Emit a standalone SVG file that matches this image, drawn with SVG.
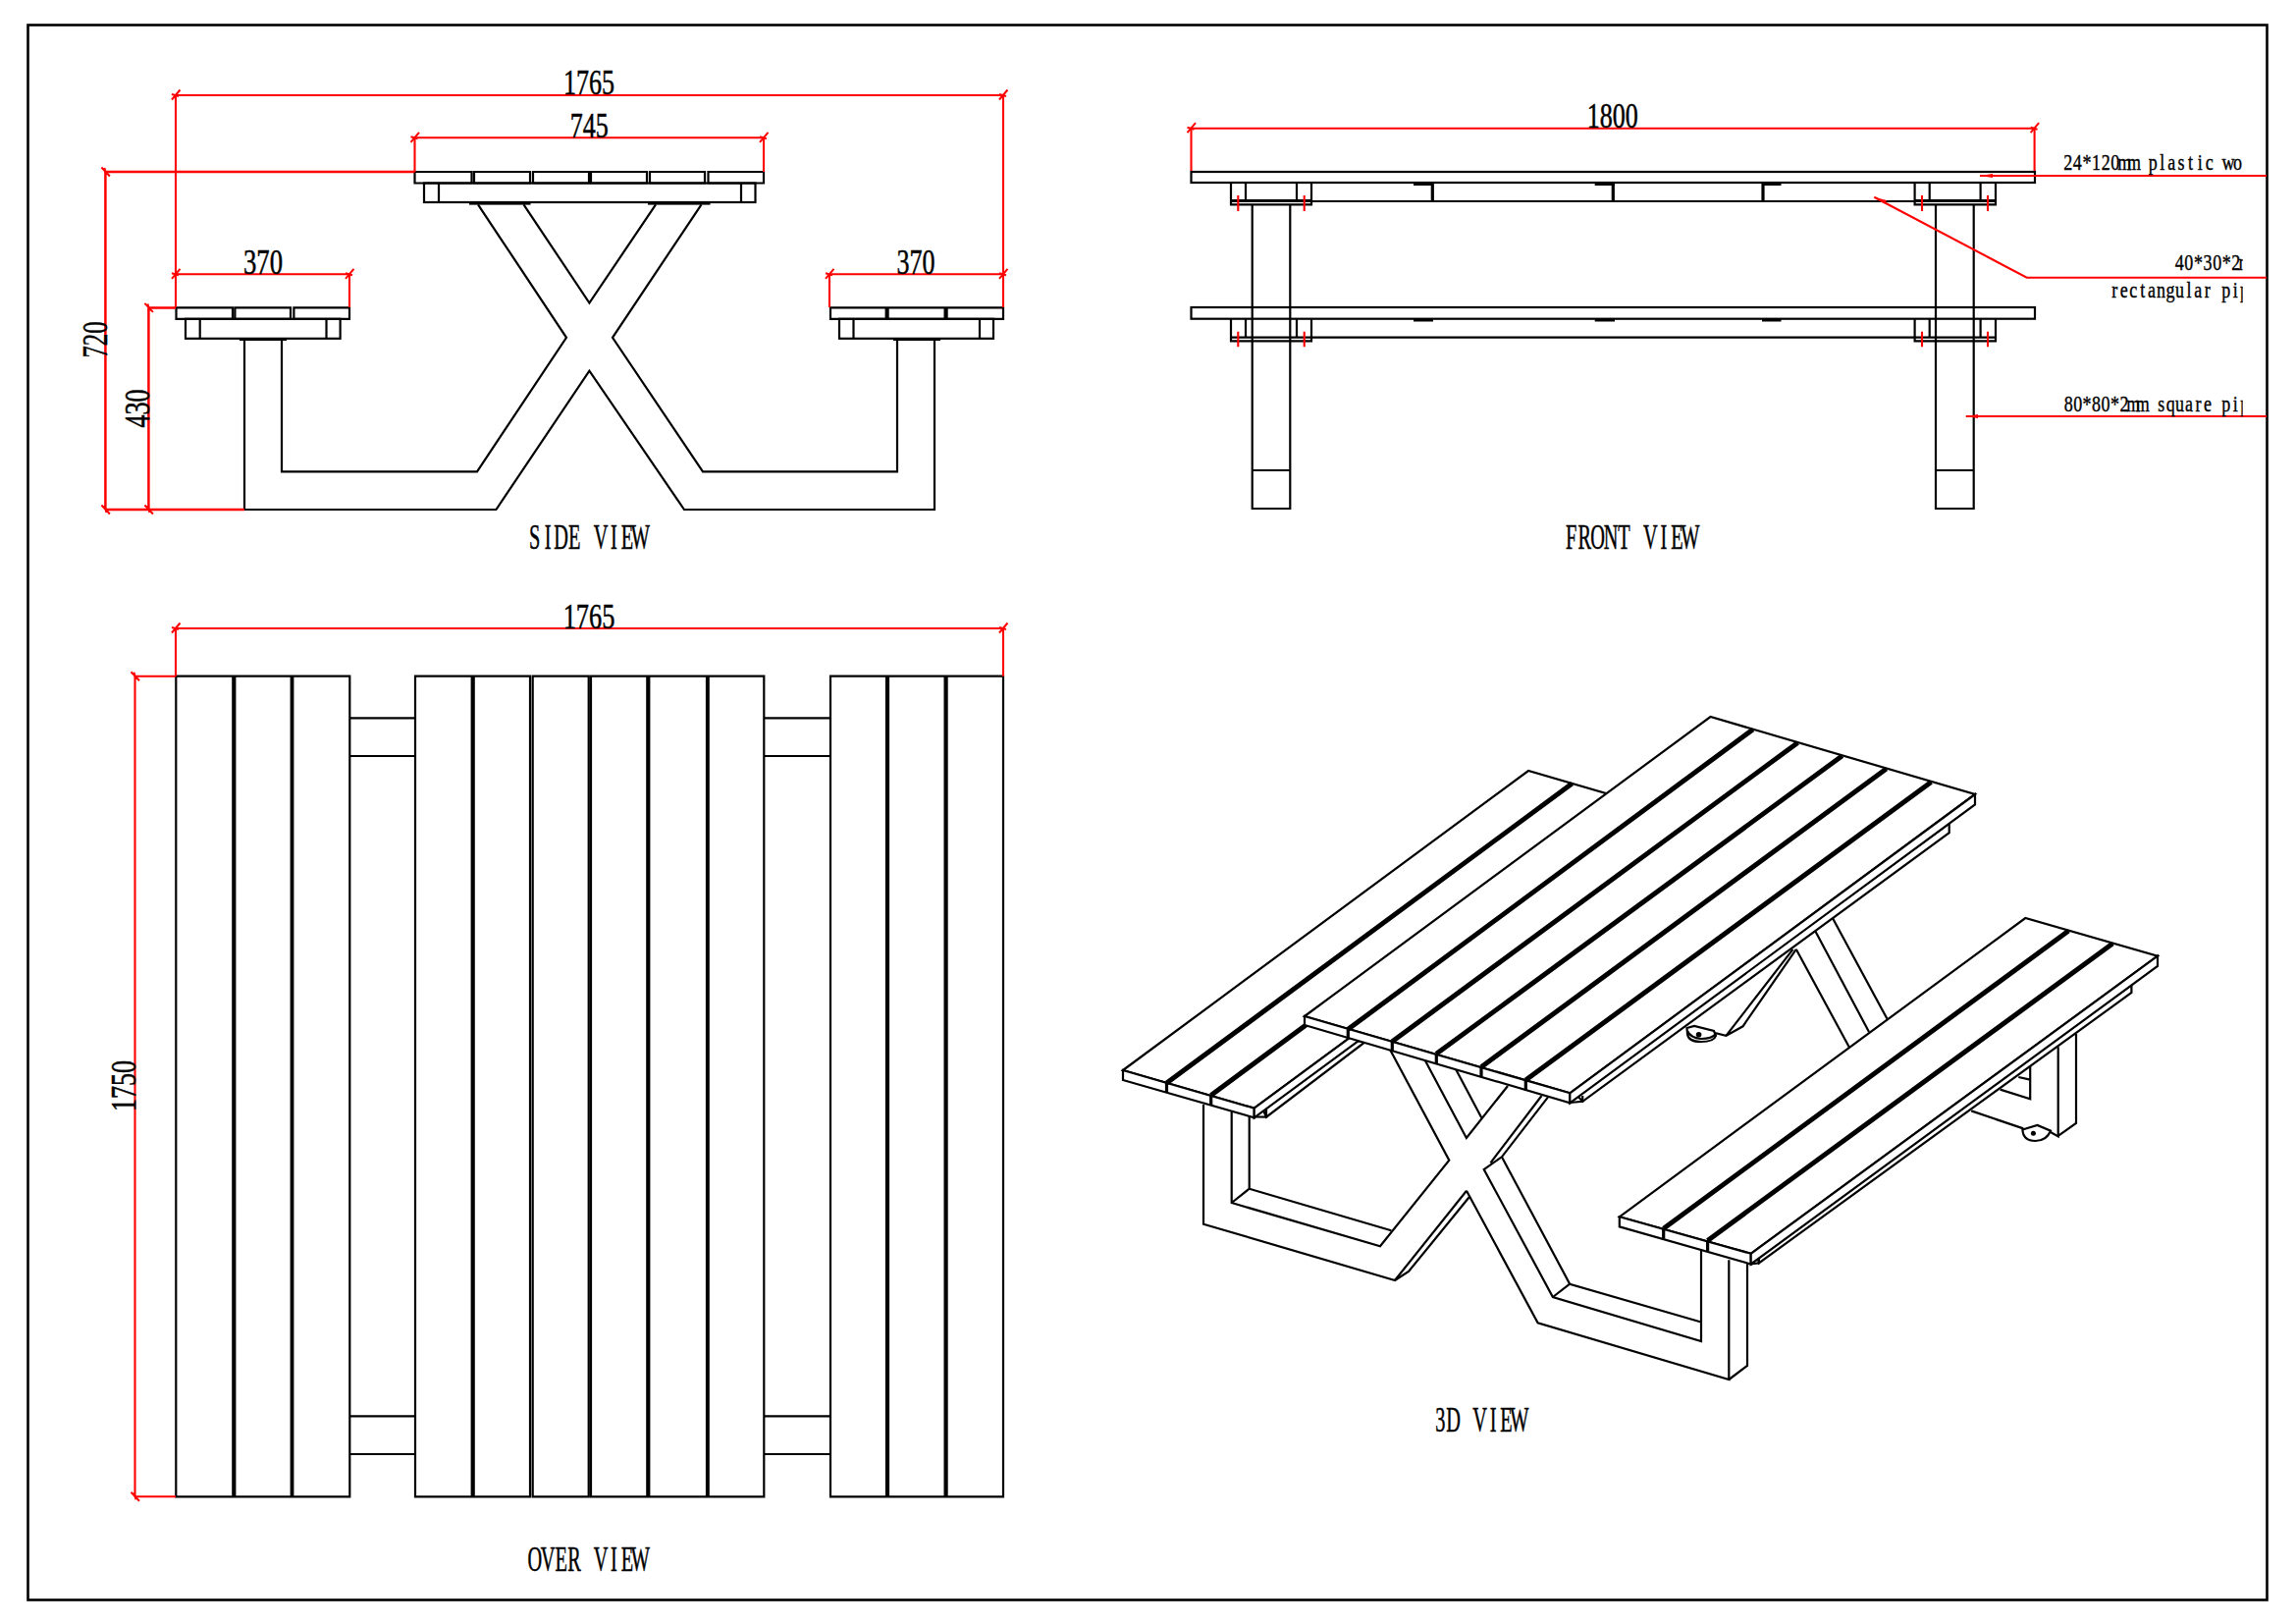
<svg xmlns="http://www.w3.org/2000/svg" width="2339" height="1654" viewBox="0 0 2339 1654">
<style>
.k{fill:none;stroke:#000;stroke-width:2.2;stroke-linejoin:miter}
.w{fill:#fff;stroke:#000;stroke-width:2.2;stroke-linejoin:miter}
.g{fill:none;stroke:#000;stroke-width:5}
.m{fill:none;stroke:#000;stroke-width:3.2}
.b{fill:#000;stroke:none}
.r{fill:none;stroke:#f00;stroke-width:2.1}
.rf{fill:#f00;stroke:none}
.t{font-family:"Liberation Serif","Times New Roman",serif;font-size:35px;fill:#000;stroke:#000;stroke-width:.5;text-anchor:middle}
.l{font-family:"Liberation Serif","Times New Roman",serif;font-size:24px;fill:#000;stroke:#000;stroke-width:.4;text-anchor:middle}
</style>
<defs>
<path id="th" d="M-4,4.5 L4.5,-5.5 M-4,-1 L3,1" fill="none" stroke="#f00" stroke-width="2"/>
<path id="tv" d="M-4,-4.5 L4.5,4.5 M-1,-4 L1,3" fill="none" stroke="#f00" stroke-width="2"/>
<clipPath id="noteclip2"><rect x="2090" y="140" width="194.7" height="300"/></clipPath>
</defs>
<rect width="2339" height="1654" fill="#fff"/>
<rect id="frame" x="28.5" y="25.5" width="2281" height="1604" fill="none" stroke="#000" stroke-width="2.6"/>

<g id="side-view">
<path class="w" d="M422.5,175H480.5V186.5H422.5Z M483,175H540V186.5H483Z M543,175H600V186.5H543Z M602,175H659V186.5H602Z M662,175H718V186.5H662Z M721.5,175H778V186.5H721.5Z"/>
<rect class="k" x="432" y="186.5" width="337.5" height="19.5"/>
<path class="k" d="M447,186.5V206M755,186.5V206"/>
<rect class="b" x="478" y="205" width="62.5" height="3.6"/>
<rect class="b" x="660" y="205" width="63.5" height="3.6"/>
<path class="w" d="M179.5,313.4H237V324.8H179.5Z M239.4,313.4H296V324.8H239.4Z M299.4,313.4H356V324.8H299.4Z"/>
<rect class="k" x="189" y="324.8" width="157.6" height="20"/>
<path class="k" d="M203.7,324.8V344.8M332.5,324.8V344.8"/>
<rect class="b" x="244" y="344" width="48" height="3"/>
<path class="w" d="M846,313.4H902.7V324.8H846Z M904.6,313.4H962.6V324.8H904.6Z M964.6,313.4H1022V324.8H964.6Z"/>
<rect class="k" x="855" y="324.8" width="157" height="20"/>
<path class="k" d="M869.5,324.8V344.8M998,324.8V344.8"/>
<rect class="b" x="910" y="344" width="48" height="3"/>
<path class="k" d="M487,208.3L577,343.8L486,480.3H287V346.6"/>
<path class="k" d="M533.5,208.3L600.4,308.6L668,208.3"/>
<path class="k" d="M714.5,208.3L624,343.8L716,480.3H914V346.6"/>
<path class="k" d="M249,346.6V519H505.4L600.4,377.6L697,519H952V346.6"/>
</g>

<g id="front-view">
<rect class="k" x="1213.5" y="175" width="859.5" height="11"/>
<rect class="k" x="1213.5" y="313" width="859.5" height="11.7"/>
<path class="k" d="M1254,205H2033M1254,343.7H2033"/>
<path class="k" d="M1254,186V208.3H1336V186M1269,186V204M1321,186V204M1254,204H1336"/>
<path class="k" d="M1950.6,186V208.3H2033V186M1965.7,186V204M2017.6,186V204M1950.6,204H2033"/>
<path class="k" d="M1254,324.7V347.3H1336V324.7M1269,324.7V343M1321,324.7V343"/>
<path class="k" d="M1950.6,324.7V347.3H2033V324.7M1965.7,324.7V343M2017.6,324.7V343"/>
<path class="k" d="M1275.7,208.3V518H1314.3V208.3M1275.7,479H1314.3"/>
<path class="k" d="M1972,208.3V518H2010.7V208.3M1972,479H2010.7"/>
<path class="m" d="M1459.3,186V205M1643.3,186V205M1796,186V205"/>
<path class="m" d="M1440,187.5H1460M1624.7,187.5H1645M1795,187.5H1814.5M1440,326H1460M1624.7,326H1645M1795,326H1814.5"/>
</g>

<g id="over-view">
<path class="k" d="M356.3,731.3H422.7M356.3,770H422.7M356.3,1442.4H422.7M356.3,1481H422.7"/>
<path class="k" d="M778,731.3H845M778,770H845M778,1442.4H845M778,1481H845"/>
<path class="k" d="M179.3,688.7H237.3V1524.3H179.3Z M239.3,688.7H296.7V1524.3H239.3Z M298.3,688.7H356.3V1524.3H298.3Z"/>
<path class="k" d="M423,688.7H480.7V1524.3H423Z M482.7,688.7H540V1524.3H482.7Z M542.7,688.7H599.7V1524.3H542.7Z M602,688.7H659.3V1524.3H602Z M661.3,688.7H720V1524.3H661.3Z M721.7,688.7H778.3V1524.3H721.7Z"/>
<path class="k" d="M846,688.7H903V1524.3H846Z M905,688.7H962.6V1524.3H905Z M964.6,688.7H1022V1524.3H964.6Z"/>
</g>

<g id="view-3d">
<g id="back-legs">
<path class="k" d="M1866.5,934.3L1922.4,1037.6M1849,947.7L1904,1051M1829.8,966.8L1883.7,1066.3"/>
<path class="k" d="M1829.8,966.8L1775.5,1045.3L1758.4,1054.9L1747,1052M1826.5,966.8L1758.4,1054.9"/>
<path class="w" d="M1718.5,1047L1726,1045L1746,1050L1748,1055Q1746,1061 1733,1061Q1720,1061 1719,1053Z"/>
<path class="k" d="M1719,1050Q1722,1057 1733,1058Q1744,1058 1748,1053"/>
<circle class="b" cx="1730.6" cy="1053.7" r="2.8"/>
<path class="k" d="M2115,1053V1144L2096,1157.4M2096.7,1066.3V1157.4L2088,1152.5"/>
<path class="k" d="M2068.2,1085.5V1119.2L2037.6,1109.6M2056.3,1097L2068.2,1099.6"/>
<path class="k" d="M2008.2,1131.4L2061.2,1149.4"/>
<path class="w" d="M2060.4,1150.5L2075.5,1146L2089,1151.7Q2085,1162 2073.5,1162Q2061,1162 2060.4,1150.5Z"/>
<circle class="b" cx="2071.4" cy="1154.2" r="2.5"/>
</g>
<g id="front-legs">
<path class="k" d="M1226,1125V1246.7L1421,1304L1494,1212.7"/>
<path class="k" d="M1421,1304L1435,1295L1496.7,1219.3"/>
<path class="k" d="M1494,1212.7L1566.6,1347.3L1761.3,1405V1283.3"/>
<path class="k" d="M1761.3,1405L1780,1391V1286"/>
<path class="k" d="M1254.7,1132.3V1225L1406,1269.3L1476.3,1181.7L1416.2,1069.3"/>
<path class="k" d="M1272.7,1137.3V1210.7L1417.3,1253.3M1254.7,1225L1272.7,1210.7"/>
<path class="k" d="M1451.8,1080L1493.9,1159L1536,1106M1483.2,1089.3L1509.2,1138.3"/>
<path class="k" d="M1570.5,1116L1518.4,1184.3M1577,1117.3L1529.9,1178.3L1511.7,1191L1581.9,1321L1733,1366V1273.3"/>
<path class="k" d="M1529.9,1178.3L1599.2,1307.7L1733,1346.5M1581.9,1321L1599.2,1307.7"/>
</g>
<g id="rails">
<path class="w" d="M1286.7,1130L1383,1060L1390,1061.7L1290,1137.7Z"/>
<path class="k" d="M1278,1137.5L1290,1137.7V1130"/>
<path class="w" d="M1607,1116L1985.7,838.6V848.2L1612.2,1121.8Z"/>
<path class="k" d="M1599.3,1123L1612.2,1121.8V1116"/>
<path class="w" d="M1791,1278.7L2171.4,1003V1011L1791.8,1286.4Z"/>
<path class="k" d="M1783.7,1287.5L1791.8,1286.4V1279"/>
</g>
<g id="left-bench">
<path class="w" d="M1144,1090L1557,785L1690.7,824L1277.7,1128.7Z"/>
<path class="w" d="M1144,1090L1277.7,1128.7V1138.3L1144,1100Z"/>
<path class="w" d="M1277.7,1128.7L1690.7,824V834L1277.7,1138.3Z"/>
<path class="g" d="M1188.5,1103L1601.5,798M1233.7,1115.5L1646.7,810"/>
<path class="m" d="M1188.5,1103V1113M1233.7,1115.5V1126"/>
</g>
<g id="right-bench">
<path class="w" d="M1649.8,1239.3L2063.3,935L2198,973.7L1783.7,1276.8Z"/>
<path class="w" d="M1649.8,1239.3L1783.7,1276.8V1287.5L1649.8,1249.3Z"/>
<path class="w" d="M1783.7,1276.8L2198,973.7V984L1783.7,1287.5Z"/>
<path class="g" d="M1694.7,1251.2L2107.3,948M1739.6,1263.4L2152.2,961"/>
<path class="m" d="M1694.7,1251.2V1261.5M1739.6,1263.4V1274"/>
</g>
<g id="table-top">
<path class="w" d="M1329,1035L1742.5,730L2012,809L1599.3,1113.3Z"/>
<path class="w" d="M1329,1035L1599.3,1113.3V1123.3L1329,1044Z"/>
<path class="w" d="M1599.3,1113.3L2012,809V819.5L1599.3,1123.3Z"/>
<path class="g" d="M1373.3,1048.3L1785.7,743M1418.3,1060.7L1831.4,756.4M1463.3,1073.3L1876.7,769.8M1509,1086.7L1921.6,783M1554.3,1100L1967.3,796.5"/>
<path class="m" d="M1373.3,1048.3V1058M1418.3,1060.7V1071M1463.3,1073.3V1083.5M1509,1086.7V1097M1554.3,1100V1110.5"/>
</g>
</g>

<g id="connectors">
<path class="r" d="M179,97H1022M179,97V313M1022,97V313"/>
<path class="r" d="M422.5,140.3H778M422.5,140.3V175M778,140.3V175"/>
<path class="r" d="M179,279.3H356M356,279.3V313M845,279.3H1022M845,279.3V313"/>
<path class="r" d="M107.4,175V519M107.4,175H422.5M151.4,313.4V519M151.4,313.4H179M107.4,519H249" style="stroke-width:2.5"/>
<use href="#th" x="179" y="97"/><use href="#th" x="1022" y="97"/>
<use href="#th" x="422.5" y="140.3"/><use href="#th" x="778" y="140.3"/>
<use href="#th" x="179" y="279.3"/><use href="#th" x="356" y="279.3"/>
<use href="#th" x="845" y="279.3"/><use href="#th" x="1022" y="279.3"/>
<use href="#tv" x="107.4" y="175"/><use href="#tv" x="107.4" y="519"/>
<use href="#tv" x="151.4" y="313.4"/><use href="#tv" x="151.4" y="519"/>

<path class="r" d="M1213.5,130.7H2072.6M1213.5,130.7V174M2072.6,130.7V174"/>
<use href="#th" x="1213.5" y="130.7"/><use href="#th" x="2072.6" y="130.7"/>
<path class="r" d="M1261.3,199V215M1328.7,199V215M1958,199V215M2025,199V215M1261.3,337.7V353.3M1328.7,337.7V353.3M1958,337.7V353.3M2025,337.7V353.3"/>
<path class="r" d="M2309,179H2017"/>
<path class="rf" d="M2017,179L2030,177V181Z"/>
<path class="r" d="M2309,282.7H2064.7L1909.3,200.7"/>
<path class="rf" d="M1909.3,200.7L1922,204L1920,207.5Z"/>
<path class="r" d="M2309,424H2002.8"/>
<path class="rf" d="M2002.8,424L2015,422V426Z"/>

<path class="r" d="M179,640H1022M179,640V688.7M1022,640V688.7"/>
<path class="r" d="M137.5,688.7V1524.3M137.5,688.7H179M137.5,1524.3H179"/>
<use href="#th" x="179" y="640"/><use href="#th" x="1022" y="640"/>
<use href="#tv" x="137.5" y="688.7"/><use href="#tv" x="137.5" y="1524.3"/>
</g>

<g id="labels">
<text class="t" x="600" y="96" textLength="52" lengthAdjust="spacingAndGlyphs">1765</text>
<text class="t" x="600.3" y="140" textLength="39" lengthAdjust="spacingAndGlyphs">745</text>
<text class="t" x="268" y="279" textLength="40" lengthAdjust="spacingAndGlyphs">370</text>
<text class="t" x="933" y="279" textLength="39" lengthAdjust="spacingAndGlyphs">370</text>
<text class="t" transform="translate(108.7 346) rotate(-90)" textLength="37" lengthAdjust="spacingAndGlyphs">720</text>
<text class="t" transform="translate(152 416) rotate(-90)" textLength="39" lengthAdjust="spacingAndGlyphs">430</text>
<text class="t" x="1642.7" y="130" textLength="52" lengthAdjust="spacingAndGlyphs">1800</text>
<text class="t" x="600" y="640" textLength="52.7" lengthAdjust="spacingAndGlyphs">1765</text>
<text class="t" transform="translate(137.7 1106) rotate(-90)" textLength="52" lengthAdjust="spacingAndGlyphs">1750</text>
<text class="t" transform="translate(538 559) scale(.58 1)" x="11.6 34.8 58 81.2 104.4 127.6 150.8 174 197.2">SIDE VIEW</text>
<text class="t" transform="translate(1594 559) scale(.58 1)" x="11.6 34.8 58 81.2 104.4 127.6 150.8 174 197.2 220.4">FRONT VIEW</text>
<text class="t" transform="translate(538 1599.5) scale(.58 1)" x="11.6 34.8 58 81.2 104.4 127.6 150.8 174 197.2">OVER VIEW</text>
<text class="t" transform="translate(1460.5 1457.5) scale(.58 1)" x="11.6 34.8 58 81.2 104.4 127.6 150.8">3D VIEW</text>
<g clip-path="url(#noteclip2)">
<text class="l" transform="translate(2101.8 173.3) scale(.75 1)" x="6.6 19.4 32.2 45 57.8 70.6 83.4 96.2 109 121.8 134.6 147.4 160.2 173 185.8 198.6 211.4 224.2 237">24*120mm plastic wo</text>
<text class="l" transform="translate(2215.3 275) scale(.75 1)" x="6.6 19.4 32.2 45 57.8 70.6 83.4 96.2">40*30*2m</text>
<text class="l" transform="translate(2149.6 302.7) scale(.75 1)" x="6.3 18.9 31.5 44.1 56.7 69.3 81.9 94.5 107.1 119.7 132.3 144.9 157.5 170.1 182.7">rectangular pip</text>
<text class="l" transform="translate(2102.5 419.3) scale(.75 1)" x="6.3 18.9 31.5 44.1 56.7 69.3 81.9 94.5 107.1 119.7 132.3 144.9 157.5 170.1 182.7 195.3 207.9 220.5 233.1 245.7">80*80*2mm square pip</text>
</g>
</g>
</svg>
